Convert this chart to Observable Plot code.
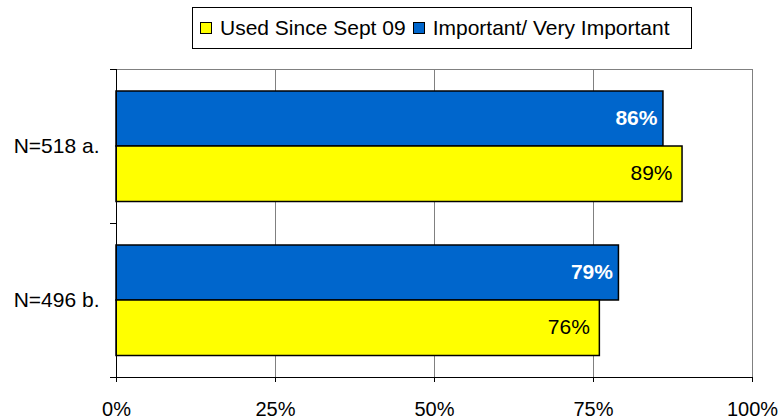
<!DOCTYPE html>
<html>
<head>
<meta charset="utf-8">
<script src="https://cdn.jsdelivr.net/npm/d3@7"></script>
<script src="https://cdn.jsdelivr.net/npm/@observablehq/plot@0.6"></script>
<style>
  body { margin: 0; background: #fff; font-family: "Liberation Sans", Arial, sans-serif; }
  #legend-wrap { position: relative; height: 55px; }
  #legend { position: absolute; left: 192px; top: 7px; width: 498px; height: 40px; border: 1px solid #000; display: flex; align-items: center; font-size: 21px; color: #000; white-space: nowrap; }
  .item { display: flex; align-items: center; margin-left: 7px; }
  .sw { width: 10px; height: 10px; border: 1.5px solid #000; margin-right: 8px; }
  svg { display: block; }
</style>
</head>
<body>
<div id="legend-wrap"><div id="legend"></div></div>
<div id="chart"></div>
<script>
const categories = ["N=518 a.", "N=496 b."];
const seriesNames = ["Used Since Sept 09", "Important/ Very Important"];
const seriesColors = ["#FFFF00", "#0066CC"];
const usedSince = [0.89, 0.76];
const important = [0.86, 0.79];
const xTicks = [0, 0.25, 0.5, 0.75, 1];
const gridTicks = [0.25, 0.5, 0.75];

const used = categories.map((c, i) => ({cat: c, value: usedSince[i]}));
const imp = categories.map((c, i) => ({cat: c, value: important[i]}));

// legend
const leg = document.getElementById("legend");
seriesNames.forEach((s, i) => {
  const it = document.createElement("div");
  it.className = "item";
  const sw = document.createElement("div");
  sw.className = "sw";
  sw.style.background = seriesColors[i];
  const t = document.createElement("span");
  t.textContent = s;
  it.append(sw, t);
  leg.append(it);
});

const fmt = d3.format(".0%");
const H = 364, MT = 14, MB = 42;
const half = (H - MT - MB) / 4;

const chart = Plot.plot({
  width: 779,
  height: H,
  marginLeft: 116,
  marginRight: 27,
  marginTop: MT,
  marginBottom: MB,
  style: {fontFamily: "'Liberation Sans', Arial, sans-serif", fontSize: "20px", color: "#000", background: "#fff"},
  x: {domain: [0, 1]},
  y: {domain: categories, padding: 0},
  marks: [
    Plot.ruleX(gridTicks, {stroke: "#808080", strokeWidth: 1}),
    Plot.frame({stroke: "#808080"}),
    Plot.barX(imp, {x: "value", y: "cat", fill: seriesColors[1], stroke: "#000", strokeWidth: 1.5, insetTop: 22, insetBottom: 77}),
    Plot.barX(used, {x: "value", y: "cat", fill: seriesColors[0], stroke: "#000", strokeWidth: 1.5, insetTop: 77, insetBottom: 21.5}),
    Plot.text(imp, {x: "value", y: "cat", text: d => fmt(d.value), textAnchor: "end", dx: -6, dy: -28, fill: "#fff", fontWeight: "bold", fontSize: 21}),
    Plot.text(used, {x: "value", y: "cat", text: d => fmt(d.value), textAnchor: "end", dx: -10, dy: 27, fill: "#000", fontSize: 21}),
    Plot.ruleX([0], {stroke: "#000"}),
    Plot.frame({anchor: "bottom", stroke: "#000"}),
    Plot.axisX(xTicks, {tickFormat: fmt, tickSize: 5, tickPadding: 19, label: null, stroke: "#000", fontSize: 20}),
    Plot.axisY({tickSize: 0, tickPadding: 17, label: null, fontSize: 21}),
    Plot.axisY({tickSize: 6, text: null, label: null, dy: -half, stroke: "#000"}),
    Plot.axisY({tickSize: 6, text: null, label: null, dy: half, stroke: "#000"})
  ]
});
document.getElementById("chart").append(chart);
</script>
</body>
</html>
